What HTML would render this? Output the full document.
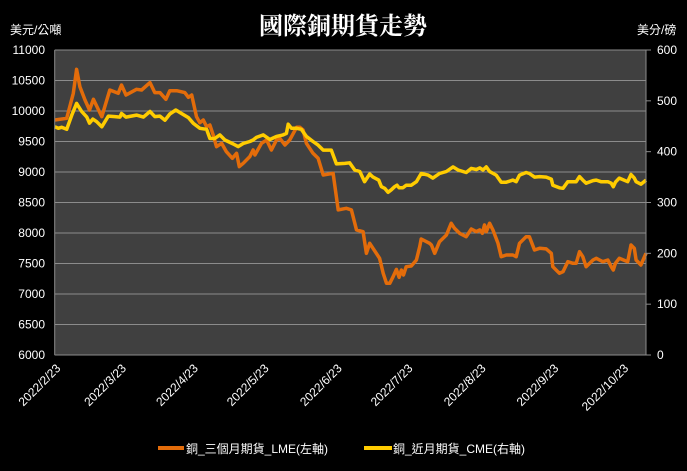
<!DOCTYPE html>
<html><head><meta charset="utf-8">
<style>
html,body{margin:0;padding:0;background:#000;}
svg text{font-family:"Liberation Sans","Noto Sans CJK TC",sans-serif;fill:#fff;}
</style></head>
<body>
<svg id="chart" width="687" height="466" viewBox="0 0 687 466" xmlns="http://www.w3.org/2000/svg">
<rect x="0" y="0" width="687" height="466" fill="#000"/>
<text x="343" y="34" text-anchor="middle" font-size="24" font-weight="bold" style="font-family:'Liberation Serif','Noto Serif CJK SC',serif">國際銅期貨走勢</text>
<text x="10" y="34" font-size="12">美元/公噸</text>
<text x="637" y="34" font-size="12">美分/磅</text>
<rect x="54.7" y="50" width="591.3" height="305" fill="#404040"/>
<g id="grid"></g><g id="series"></g><g id="axes"></g>
<g>
<line x1="158" y1="448" x2="184" y2="448" stroke="#E36C0A" stroke-width="4"/>
<text x="186" y="453" font-size="12">銅_三個月期貨_LME(左軸)</text>
<line x1="364" y1="448" x2="392" y2="448" stroke="#FFCC00" stroke-width="4"/>
<text x="393" y="453" font-size="12">銅_近月期貨_CME(右軸)</text>
</g>
</svg>
<script>
const tickDays=[1.5,23.4,47.4,71,95.4,119,143.4,167.7,191];
const tickLabels=["2022/2/23","2022/3/23","2022/4/23","2022/5/23","2022/6/23","2022/7/23","2022/8/23","2022/9/23","2022/10/23"];
const leftTicks=[6000,6500,7000,7500,8000,8500,9000,9500,10000,10500,11000];
const rightTicks=[0,100,200,300,400,500,600];
const lmeDays=[0,4,6.2,7.3,8.4,10.1,11.6,12.9,15.7,18.4,21.2,22.3,23.8,27.3,29,31.8,33.4,35.1,37.1,38.4,40.7,43.4,44.6,45.7,47.3,48.4,49.6,50.7,51.8,52.9,54,55.7,57.3,59.3,60.7,61.6,62.9,65.1,66.2,66.8,69,70.7,72.3,74,75.1,76.8,78.4,80.7,81.8,82.9,84,86.2,87.9,89.6,92.9,94.6,97.3,99,100.7,102.9,104,105.1,106.2,108.4,109.6,110.7,111.8,112.9,114,114.9,115.7,116.4,117.3,119,120.7,121.8,122.3,125.1,125.7,126.8,128.4,130.7,132.3,133.4,135.1,137.3,139,140.7,141.8,142.7,143.4,144,145.1,146.2,147.9,149,150.7,152.9,154,155.1,157.3,158.4,160.1,161.8,164,165.7,166.2,168.4,169.6,171.2,172.9,174,175.1,176.2,177.3,179.6,180.7,181.8,182.9,184.6,185.7,186.4,187.1,188.4,191.2,192.3,193.4,194,195.6,197.3];
const lmeValues=[9853,9880,10290,10683,10399,10180,10017,10191,9907,10344,10290,10426,10262,10355,10344,10465,10301,10301,10191,10333,10333,10301,10224,10262,9907,9809,9853,9743,9771,9607,9415,9470,9333,9224,9306,9088,9142,9252,9361,9279,9470,9525,9361,9525,9552,9443,9525,9733,9733,9689,9470,9306,9224,8951,8979,8378,8405,8378,8050,8022,7667,7831,7749,7585,7339,7175,7175,7284,7404,7273,7393,7311,7448,7459,7557,7776,7902,7831,7804,7667,7858,7967,8159,8077,7995,7940,8066,8022,8050,7995,8132,8022,8159,8050,7831,7612,7640,7640,7612,7831,7940,7940,7722,7749,7740,7667,7448,7339,7366,7530,7503,7503,7694,7612,7448,7557,7585,7557,7530,7557,7448,7393,7503,7585,7530,7804,7749,7557,7476,7667];
const cmeDays=[0,1.2,2.3,4,5.7,7.3,9,10.7,11.6,12.7,14,15.7,17.9,20.1,21.8,22.3,23.8,27.3,29.6,31.8,33.4,35.1,36.8,38.4,40.4,42.3,44.6,46.2,48.4,50.7,51.8,53.4,55.1,56.8,59.6,61.2,62.9,65.1,66.2,67.3,69.6,71.8,74,76.2,77.3,77.9,79,80.7,82.3,84,86.2,87.9,89.6,92.3,94,96.8,98.4,100.1,101.8,103.4,105.1,106.2,108.1,109,110.1,111.2,112.3,113.4,114.2,114.9,116.2,117.3,119,120.7,122.3,124.6,126.2,128.4,130.7,132.9,134.6,136.2,137.3,139,140.7,141.8,142.9,144,145.1,147.3,149,150.7,152.9,154,155.1,157.3,158.4,160.1,161.8,164,165.7,166.2,168.4,169.6,171.2,172.9,174,175.1,176.2,177.3,179.6,180.7,182.3,184.6,185.7,186.4,187.1,188.4,191.2,192.3,193.4,194,195.6,197.3];
const cmeValues=[449,446,448,444,472,495,479,468,456,464,459,449,470,469,468,475,468,472,468,479,469,470,462,474,482,475,467,456,446,444,426,426,433,423,415,410,416,420,423,428,433,424,430,433,436,454,446,446,444,430,420,413,403,403,376,377,378,364,361,341,356,350,344,331,328,320,325,331,334,329,329,334,334,341,357,354,348,357,361,370,364,361,359,367,365,368,364,370,361,354,340,340,344,341,354,359,357,350,351,350,346,334,329,328,341,341,341,351,344,338,343,344,341,341,338,331,340,348,341,355,348,341,336,344];

const NS="http://www.w3.org/2000/svg";
const X0=54.7,X1=646,Y0=50,Y1=355,DMAX=197.3;
const x=d=>X0+d/DMAX*(X1-X0);
const yL=v=>Y1-(v-6000)/5000*(Y1-Y0);
const yR=v=>Y1-v/600*(Y1-Y0);
function mk(tag,attrs,parent){const e=document.createElementNS(NS,tag);for(const k in attrs)e.setAttribute(k,attrs[k]);parent.appendChild(e);return e;}
const grid=document.getElementById('grid'),axes=document.getElementById('axes'),series=document.getElementById('series');
leftTicks.forEach(v=>{
  const g=mk('line',{x1:X0,x2:X1,y1:yL(v),y2:yL(v),stroke:'#8c8c8c','stroke-width':1},grid);
  
  
  const t=mk('text',{x:45,y:yL(v)+4,'text-anchor':'end','font-size':12},axes);
  t.textContent=v;
  
  
});
rightTicks.forEach(v=>{
  const m=mk('line',{x1:X1,x2:X1+5,y1:yR(v),y2:yR(v),stroke:'#8c8c8c'},axes);
  
  
  const t=mk('text',{x:657,y:yR(v)+4,'font-size':12},axes);
  t.textContent=v;
  
  
});
const ax=mk('line',{x1:X0,x2:X0,y1:Y0,y2:Y1,stroke:'#8c8c8c'},axes);


const ar=mk('line',{x1:X1,x2:X1,y1:Y0,y2:Y1,stroke:'#8c8c8c'},axes);


const ab=mk('line',{x1:X0,x2:X1,y1:Y1,y2:Y1,stroke:'#8c8c8c'},axes);


tickDays.forEach((d,i)=>{
  const px=x(d)+2,py=369;
  const t=mk('text',{x:px,y:py,'text-anchor':'end','font-size':12,transform:`rotate(-45 ${px} ${py})`},axes);
  t.textContent=tickLabels[i];
  
  
});
const pl=lmeDays.map((d,i)=>x(d).toFixed(1)+','+yL(lmeValues[i]).toFixed(1)).join(' ');
const l1=mk('polyline',{points:pl,fill:'none',stroke:'#E36C0A','stroke-width':3.5,'stroke-linejoin':'round'},series);


const pc=cmeDays.map((d,i)=>x(d).toFixed(1)+','+yR(cmeValues[i]).toFixed(1)).join(' ');
const l2=mk('polyline',{points:pc,fill:'none',stroke:'#FFCC00','stroke-width':3.5,'stroke-linejoin':'round'},series);


</script>
</body></html>
